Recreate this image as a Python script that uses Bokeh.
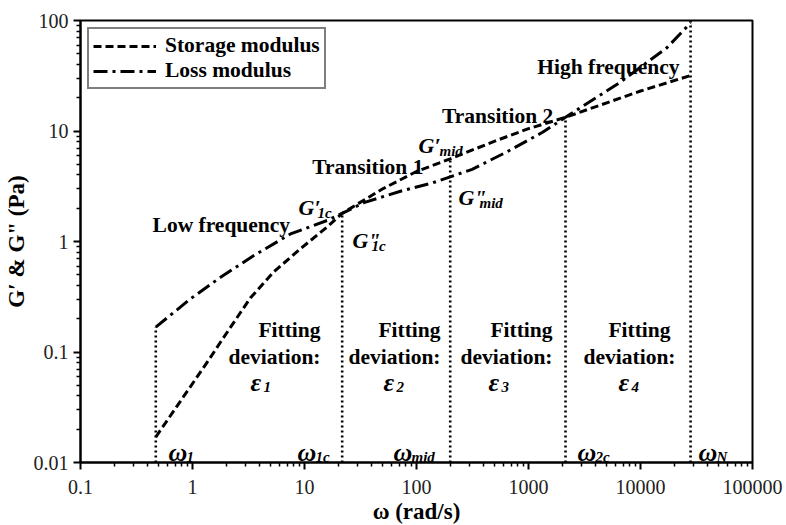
from bokeh.plotting import figure
from bokeh.models import FixedTicker, Label, Legend, LegendItem, CustomJSTickFormatter
from bokeh.embed import file_html
from bokeh.resources import INLINE

# ---------------- data ----------------
omega_storage = [0.47, 0.84, 1.4, 1.8, 2.7, 3.3, 5.3, 9.2, 15.9, 21.7, 50, 100, 200, 500, 1000, 2140, 5000, 10000, 28000]
g_storage = [0.017, 0.040, 0.085, 0.125, 0.23, 0.31, 0.53, 0.86, 1.35, 1.8, 3.0, 4.3, 5.6, 8.1, 10.5, 13.3, 18, 23, 31.8]

omega_loss = [0.47, 0.96, 1.78, 3.53, 7.5, 15.9, 21.7, 34, 72, 140, 314, 646, 1325, 2140, 6620, 17300, 28000]
g_loss = [0.168, 0.303, 0.475, 0.747, 1.17, 1.55, 1.8, 2.25, 2.85, 3.4, 4.5, 6.5, 9.7, 13.3, 27.7, 57, 95]

omega_marks = [0.47, 21.7, 200, 2140, 28000]
mark_tops = [0.168, 1.8, 5.6, 13.3, 100]
mark_subs = ["1", "1c", "mid", "2c", "N"]

x_ticks = [0.1, 1, 10, 100, 1000, 10000, 100000]
x_tick_labels = ["0.1", "1", "10", "100", "1000", "10000", "100000"]
y_ticks = [0.01, 0.1, 1, 10, 100]
y_tick_labels = ["0.01", "0.1", "1", "10", "100"]

series_names = ["Storage modulus", "Loss modulus"]
region_names = ["Low frequency", "Transition 1", "Transition 2", "High frequency"]
eps_subs = ["1", "2", "3", "4"]

# ---------------- figure ----------------
p = figure(x_axis_type="log", y_axis_type="log",
           x_range=(x_ticks[0], x_ticks[-1]), y_range=(y_ticks[0], y_ticks[-1]),
           frame_width=672, frame_height=442,
           min_border_left=80, min_border_right=34, min_border_top=20, min_border_bottom=63,
           output_backend="svg", toolbar_location=None)
p.background_fill_color = "white"
p.border_fill_color = "white"
p.outline_line_color = "black"
p.outline_line_width = 2
p.xgrid.visible = False
p.ygrid.visible = False

def minors(lo, hi):
    return [m * 10.0 ** k for k in range(lo, hi) for m in range(2, 10)]

fmt_code = """
let best = '';
let bd = 1e9;
for (let i = 0; i < tv.length; i++) {
  const d = Math.abs(Math.log10(tv[i]) - Math.log10(tick));
  if (d < bd) { bd = d; best = tl[i]; }
}
return bd < 1e-6 ? best : '';
"""
p.xaxis.ticker = FixedTicker(ticks=x_ticks, minor_ticks=minors(-1, 5))
p.yaxis.ticker = FixedTicker(ticks=y_ticks, minor_ticks=minors(-2, 2))
p.xaxis.formatter = CustomJSTickFormatter(args=dict(tv=x_ticks, tl=x_tick_labels), code=fmt_code)
p.yaxis.formatter = CustomJSTickFormatter(args=dict(tv=y_ticks, tl=y_tick_labels), code=fmt_code)

for ax in (p.xaxis, p.yaxis):
    ax.axis_line_width = 2
    ax.axis_line_color = "black"
    ax.major_tick_line_width = 2
    ax.minor_tick_line_width = 1.5
    ax.major_tick_in = 0
    ax.major_tick_out = 7
    ax.minor_tick_in = 0
    ax.minor_tick_out = 4
    ax.major_label_text_font = "Liberation Serif"
    ax.major_label_text_font_size = "20px"
    ax.major_label_text_color = "#222222"
    ax.axis_label_text_font = "Liberation Serif"
    ax.axis_label_text_font_style = "bold"
    ax.axis_label_text_font_size = "23px"
    ax.axis_label_text_color = "black"

p.xaxis.major_label_standoff = 10
p.xaxis.axis_label_standoff = 2
p.yaxis.major_label_standoff = 5
p.yaxis.axis_label_standoff = 2
p.xaxis.axis_label = "ω (rad/s)"
p.yaxis.axis_label = "G′ & G\" (Pa)"

# ---------------- marks ----------------
p.segment(x0=omega_marks, y0=[y_ticks[0]] * len(omega_marks), x1=omega_marks, y1=mark_tops,
          line_color="black", line_width=2.6, line_dash="2 3")
storage = p.line(omega_storage, g_storage, line_color="black", line_width=3, line_dash="8 4")
loss = p.line(omega_loss, g_loss, line_color="black", line_width=3, line_dash="14 5 3 5")

legend = Legend(items=[LegendItem(label=series_names[0], renderers=[storage]),
                       LegendItem(label=series_names[1], renderers=[loss])],
                location="top_left")
legend.margin = 7
legend.padding = 4
legend.spacing = 0
legend.glyph_width = 63
legend.glyph_height = 20
legend.label_height = 20
legend.label_standoff = 9
legend.border_line_color = "black"
legend.border_line_width = 2
legend.background_fill_color = "white"
legend.background_fill_alpha = 1
legend.label_text_font = "Liberation Serif"
legend.label_text_font_style = "bold"
legend.label_text_font_size = "21.5px"
legend.label_text_color = "black"
p.add_layout(legend)

FONT = "Liberation Serif"

def txt(s, x, y, size="21.5px", style="bold", align="left", xo=0, yo=0):
    p.add_layout(Label(x=x, y=y, text=s, text_font=FONT, text_font_size=size,
                       text_font_style=style, text_align=align, text_baseline="alphabetic",
                       text_color="black", x_offset=xo, y_offset=yo))

def math(main, sub, x, y, sub_dx, size="22px", sub_dy=-5):
    txt(main, x, y, size=size, style="bold italic")
    txt(sub, x, y, size="15px", style="bold italic", xo=sub_dx, yo=sub_dy)

# region names
region_pos = [(0.44, 1.40), (11.7, 4.70), (169, 13.8), (1196, 37.8)]
for name, (x, y) in zip(region_names, region_pos):
    txt(name, x, y)

# fitting deviation blocks
fit_right = [13.9, 163.8, 1638, 18530]
dev_right = [13.9, 163.8, 1638, 20540]
eps_left = [3.30, 50.7, 439.5, 6366]
for fr, dr, el, s in zip(fit_right, dev_right, eps_left, eps_subs):
    txt("Fitting", fr, 0.157, align="right")
    txt("deviation:", dr, 0.0897, align="right")
    math("ε", s, el, 0.053, 13, size="26px")

# G labels
math("G′", "1c", 8.84, 2.03, 19)
math("G\"", "1c", 26.8, 1.02, 19)
math("G′", "mid", 104.2, 7.39, 21)
math("G\"", "mid", 237, 2.50, 21)

# omega labels
omega_lbl_x = [0.611, 8.66, 62.3, 2738, 32960]
for x, s in zip(omega_lbl_x, mark_subs):
    math("ω", s, x, 0.0122, 18, size="26px", sub_dy=-4)

open("out.html", "w").write(file_html(p, INLINE))
